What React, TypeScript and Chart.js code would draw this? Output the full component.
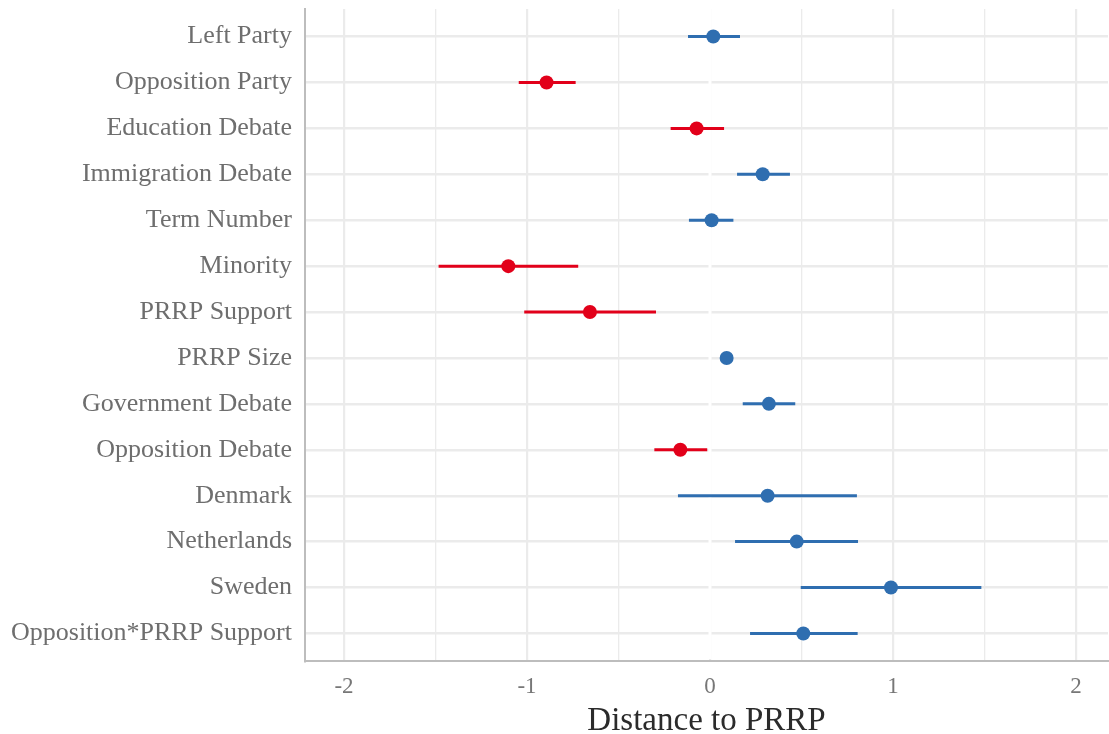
import React, { useEffect, useRef } from "react";
import { Chart, registerables } from "chart.js";

Chart.register(...registerables);

const categories = [
  "Left Party",
  "Opposition Party",
  "Education Debate",
  "Immigration Debate",
  "Term Number",
  "Minority",
  "PRRP Support",
  "PRRP Size",
  "Government Debate",
  "Opposition Debate",
  "Denmark",
  "Netherlands",
  "Sweden",
  "Opposition*PRRP Support",
];
const estimates = [0.018, -0.893, -0.073, 0.288, 0.009, -1.102, -0.656, 0.091, 0.322, -0.162, 0.315, 0.474, 0.989, 0.51];
const lower = [-0.12, -1.045, -0.215, 0.148, -0.115, -1.483, -1.015, 0.08, 0.179, -0.304, -0.175, 0.137, 0.496, 0.219];
const upper = [0.164, -0.734, 0.077, 0.437, 0.128, -0.72, -0.295, 0.1, 0.466, -0.015, 0.803, 0.809, 1.483, 0.807];
const xTicks = [-2, -1.5, -1, -0.5, 0, 0.5, 1, 1.5, 2];
const xTitle = "Distance to PRRP";

const RED = "#E2001A";
const BLUE = "#2F6EB0";
const colorFor = (v: number) => (v < 0 ? RED : BLUE);
const FONT = "'Liberation Serif', 'Times New Roman', serif";

const zeroLinePlugin = {
  id: "zeroLine",
  beforeDatasetsDraw(chart: any) {
    const { ctx, chartArea, scales } = chart;
    const x = scales.x.getPixelForValue(0);
    ctx.save();
    ctx.strokeStyle = "#ffffff";
    ctx.lineWidth = 3;
    ctx.beginPath();
    ctx.moveTo(x, chartArea.top);
    ctx.lineTo(x, chartArea.bottom - 2);
    ctx.stroke();
    ctx.restore();
  },
};

export default function App() {
  const ref = useRef<HTMLCanvasElement>(null);
  useEffect(() => {
    if (!ref.current) return;
    const pointData = categories.map((_, i) => ({ x: estimates[i], y: i }));
    const datasets: any[] = [
      {
        data: pointData,
        pointRadius: 7,
        pointHoverRadius: 7,
        pointBorderWidth: 0,
        pointBackgroundColor: estimates.map(colorFor),
        showLine: false,
      },
      ...categories.map((_, i) => ({
        data: [
          { x: lower[i], y: i },
          { x: upper[i], y: i },
        ],
        showLine: true,
        borderColor: colorFor(estimates[i]),
        borderWidth: 3,
        pointRadius: 0,
        borderCapStyle: "butt",
      })),
    ];
    const chart = new Chart(ref.current, {
      type: "scatter",
      data: { datasets },
      plugins: [zeroLinePlugin],
      options: {
        animation: false,
        responsive: false,
        layout: { autoPadding: false, padding: { top: 9, right: 1, left: 0, bottom: 0 } },
        plugins: { legend: { display: false }, tooltip: { enabled: false } },
        scales: {
          x: {
            type: "linear",
            position: "bottom",
            min: -2.213,
            max: 2.175,
            afterBuildTicks: (scale: any) => {
              scale.ticks = xTicks.map((v) => ({ value: v }));
            },
            afterFit: (scale: any) => {
              scale.height = 73;
              scale.paddingLeft = 0;
              scale.paddingRight = 0;
            },
            grid: {
              drawTicks: false,
              color: "#ebebeb",
              lineWidth: (c: any) => (Number.isInteger(c.tick?.value) ? 2.2 : 1.3),
            },
            border: { display: true, color: "#bdbdbd", width: 2 },
            ticks: {
              autoSkip: false,
              maxRotation: 0,
              padding: 12,
              color: "#777777",
              font: { family: FONT, size: 23 },
              callback: (v: any) => (Number.isInteger(v) ? String(v) : ""),
            },
            title: {
              display: true,
              text: xTitle,
              color: "#2b2b2b",
              font: { family: FONT, size: 33 },
              padding: { top: 0, bottom: -7 },
            },
          },
          y: {
            type: "linear",
            min: -0.6,
            max: 13.6,
            reverse: true,
            afterBuildTicks: (scale: any) => {
              scale.ticks = categories.map((_, i) => ({ value: i }));
            },
            afterFit: (scale: any) => {
              scale.width = 305;
              scale.paddingTop = 0;
              scale.paddingBottom = 0;
            },
            grid: { drawTicks: false, color: "#ebebeb", lineWidth: 2.4 },
            border: { display: true, color: "#bdbdbd", width: 2 },
            ticks: {
              autoSkip: false,
              padding: 13,
              color: "#6e6e6e",
              font: { family: FONT, size: 26 },
              callback: (v: any) => categories[v] ?? "",
            },
          },
        },
      },
    } as any);
    return () => chart.destroy();
  }, []);
  return (
    <div style={{ position: "fixed", left: 0, top: 0, width: 1109, height: 734, background: "#fff" }}>
      <canvas ref={ref} width={1109} height={734} style={{ display: "block" }} />
    </div>
  );
}
